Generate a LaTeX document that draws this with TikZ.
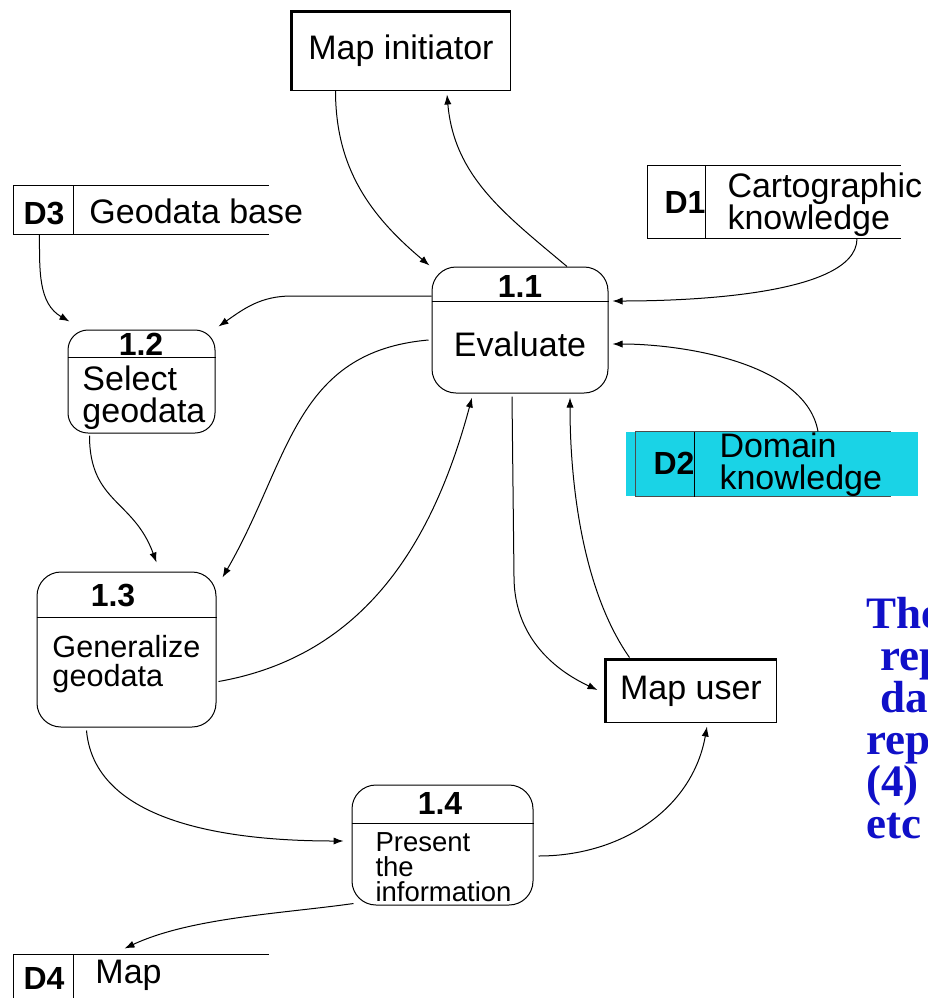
\documentclass[tikz,border=0pt]{standalone}
\usepackage{fontspec}
\setmainfont{Liberation Sans}
\newfontfamily\notefont{Liberation Serif}
\usetikzlibrary{arrows.meta,calc}

\definecolor{cyanfill}{RGB}{26,211,230}
\definecolor{noteblue}{RGB}{16,16,200}

\begin{document}
\begin{tikzpicture}[x=0.5pt, y=0.5pt,
  proc/.style={draw, rounded corners=12pt, inner sep=0pt},
  ent/.style={draw, inner sep=0pt},
  store/.style={inner sep=0pt},
  lbl/.style={font=\fontsize{17}{16}\selectfont, inner sep=0pt},
  num/.style={font=\bfseries\fontsize{16}{18}\selectfont, inner sep=0pt},
  note/.style={anchor=base west, inner sep=0pt, text=noteblue,
    font=\notefont\bfseries\fontsize{22.5}{24}\selectfont},
  >={Latex[length=5pt,width=3.6pt]}, line width=0.5pt
]
\useasboundingbox (0,0) rectangle (928,-998);

% external entities
\node[ent, lbl, minimum width=109pt, minimum height=39pt] (init) at (401,-51) {Map initiator};
\draw[line width=1.4pt] (init.south west) -- (init.north west) -- (init.north east);
\node[ent, lbl, minimum width=85pt, minimum height=31pt] (user) at (691,-691) {Map user};
\draw[line width=1.4pt] (user.south west) -- (user.north west) -- (user.north east);

% processes
\node[proc, minimum width=88pt, minimum height=63pt] (p11) at (520,-330) {};
\draw ($(p11.north west)+(0,-35)$) -- ($(p11.north east)+(0,-35)$);
\node[num] (p11n) at (520,-286) {1.1};
\node[lbl] (p11t) at (520,-344) {Evaluate};

\node[proc, rounded corners=10pt, minimum width=73.5pt, minimum height=51.5pt] (p12) at (141.5,-381.5) {};
\draw ($(p12.north west)+(0,-28)$) -- ($(p12.north east)+(0,-28)$);
\node[num] (p12n) at (141,-344) {1.2};
\node[lbl, align=left, anchor=west] (p12t) at (82,-398) {Select\\geodata};

\node[proc, minimum width=89.5pt, minimum height=77.5pt] (p13) at (126.5,-649.5) {};
\draw ($(p13.north west)+(0,-46)$) -- ($(p13.north east)+(0,-46)$);
\node[num] (p13n) at (113,-595) {1.3};
\node[lbl, font=\fontsize{15.3}{14.5}\selectfont, align=left, anchor=west] (p13t) at (52,-664) {Generalize\\geodata};

\node[proc, minimum width=90.5pt, minimum height=60pt] (p14) at (442.5,-845) {};
\draw ($(p14.north west)+(0,-39)$) -- ($(p14.north east)+(0,-39)$);
\node[num] (p14n) at (440,-803) {1.4};
\node[lbl, font=\fontsize{13.75}{12.5}\selectfont, align=left, anchor=west] (p14t) at (375,-867) {Present\\the\\information};

% data stores
\node[store, minimum width=127pt, minimum height=24pt] (d3) at (141,-210) {};
\draw (d3.north east) -- (d3.north west) -- (d3.south west) -- (d3.south east);
\draw ($(d3.north west)+(60,0)$) -- ($(d3.south west)+(60,0)$);
\node[num] (d3id) at (44,-213) {D3};
\node[lbl, anchor=west] (d3t) at (89,-211) {Geodata base};

\node[store, minimum width=126pt, minimum height=36pt] (d1) at (774,-202) {};
\draw (d1.north east) -- (d1.north west) -- (d1.south west) -- (d1.south east);
\draw ($(d1.north west)+(58,0)$) -- ($(d1.south west)+(58,0)$);
\node[num] (d1id) at (685,-202) {D1};
\node[lbl, align=left, anchor=west] (d1t) at (727,-205) {Cartographic\\knowledge};

\fill[cyanfill] (626,-432) rectangle (918,-496);
\node[store, minimum width=127pt, minimum height=32pt] (d2) at (763,-464) {};
\draw[black!70] (d2.north east) -- (d2.north west) -- (d2.south west) -- (d2.south east);
\draw ($(d2.north west)+(59,0)$) -- ($(d2.south west)+(59,0)$);
\node[num] (d2id) at (674,-463) {D2};
\node[lbl, align=left, anchor=west] (d2t) at (719,-465) {Domain\\knowledge};

\node[store, minimum width=127pt, minimum height=25pt] (d4) at (141,-980) {};
\draw (d4.north east) -- (d4.north west) -- (d4.south west);
\draw ($(d4.north west)+(60,0)$) -- ($(d4.south west)+(60,0)$);
\node[num] (d4id) at (44,-978) {D4};
\node[lbl, anchor=west] (d4t) at (95,-975) {Map};

% flows
\draw[->] ($(init.south west)+(44,0)$) to[out=-90,in=140] ($(p11.north west)+(-2,1)$);
\draw[->] ($(p11.north)+(47,0)$) to[out=140,in=-85] ($(init.south)+(46,-4)$);
\draw[->] ($(d1.south)+(83,0)$) to[out=-90,in=0,looseness=0.6] ($(p11.east)+(4,29)$);
\draw[->] ($(d2.north)+(55,0)$) to[out=100,in=0,looseness=0.8] ($(p11.east)+(4,-14)$);
\draw[->] ($(p11.west)+(0,34)$) -- ++(-140,0) to[out=180,in=35] ($(p12.north east)+(3,3)$);
\draw[->] ($(d3.south west)+(26,0)$) to[out=-90,in=150] ($(p12.north west)+(2,8)$);
\draw[->] ($(p12.south west)+(22,-2)$) to[out=-90,in=110,looseness=1.2] ($(p13.north)+(30,9)$);
\draw[->] ($(p11.west)+(-3,-10)$) to[out=185,in=60,looseness=1.1] ($(p13.north east)+(6,-6)$);
\draw[->] ($(p13.east)+(2,-32)$) to[out=10,in=-105] ($(p11.south)+(-48,-4)$);
\draw[->] ($(p11.south)+(-8,-3)$) -- ++(2,-180) to[out=-90,in=155] ($(user.west)+(-8,1)$);
\draw[->] ($(user.north west)+(24,2)$) to[out=125,in=-90,looseness=0.8] ($(p11.south)+(50,-4)$);
\draw[->] ($(p13.south west)+(50,-3)$) to[out=-85,in=180,looseness=0.9] ($(p14.west)+(-8,4)$);
\draw[->] ($(p14.east)+(5,-11)$) to[out=0,in=-100] ($(user.south)+(16,-4)$);
\draw[->] ($(p14.south west)+(2,2)$) to[out=188,in=25,looseness=0.8] ($(d4.north west)+(111,6)$);

% note (cut off at the right edge)
\node[note] (n1) at (866,-628) {The};
\node[note] (n2) at (880,-670) {rep};
\node[note] (n3) at (880,-712) {da};
\node[note] (n4) at (866,-754) {rep};
\node[note] (n5) at (866,-796) {(4)};
\node[note] (n6) at (866,-838) {etc};
\end{tikzpicture}
\end{document}
